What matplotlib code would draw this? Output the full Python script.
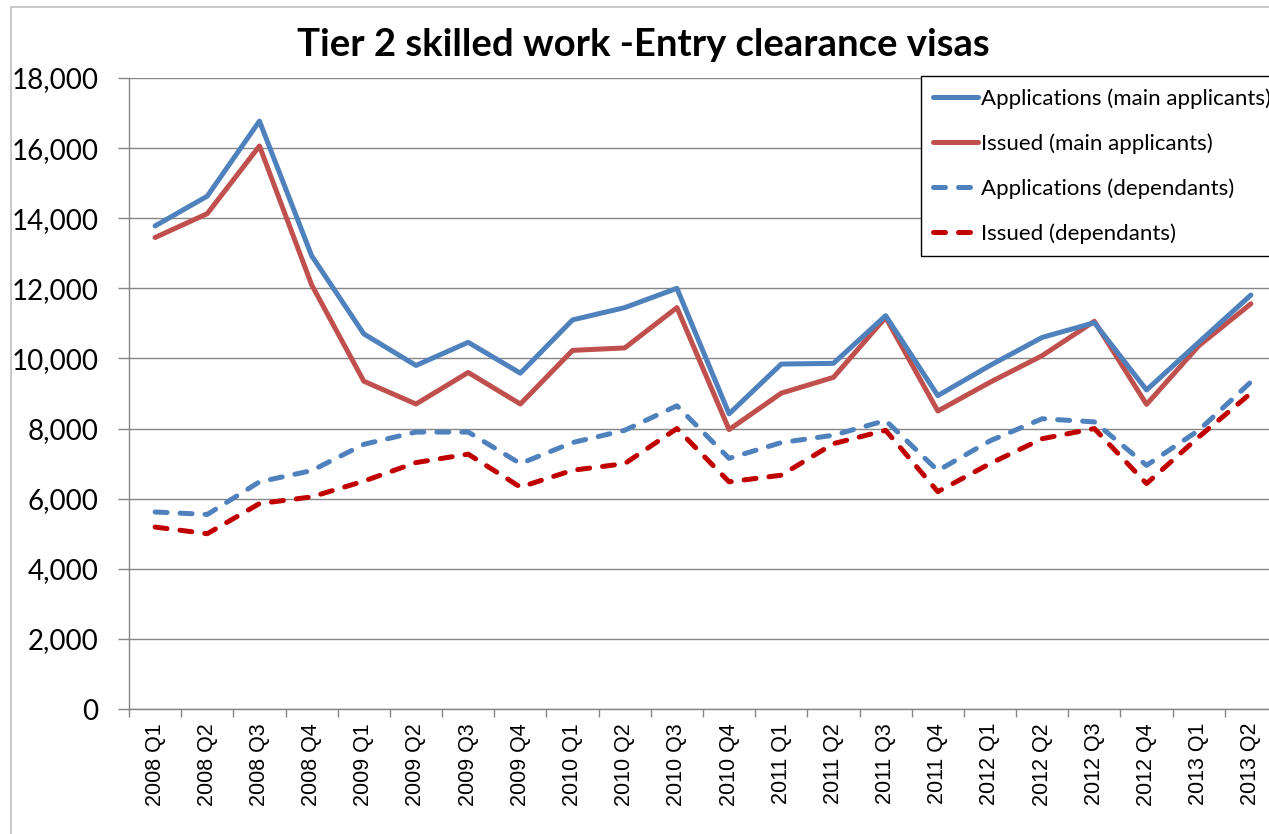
import numpy as np
import matplotlib
matplotlib.use("Agg")
import matplotlib.pyplot as plt
from matplotlib.patches import Rectangle
from matplotlib.ticker import FuncFormatter, MultipleLocator

quarters = ["2008 Q1", "2008 Q2", "2008 Q3", "2008 Q4",
            "2009 Q1", "2009 Q2", "2009 Q3", "2009 Q4",
            "2010 Q1", "2010 Q2", "2010 Q3", "2010 Q4",
            "2011 Q1", "2011 Q2", "2011 Q3", "2011 Q4",
            "2012 Q1", "2012 Q2", "2012 Q3", "2012 Q4",
            "2013 Q1", "2013 Q2"]

apps_main = [13780, 14630, 16770, 12930, 10700, 9800, 10460, 9580,
             11100, 11450, 12000, 8420, 9840, 9860, 11220, 8940,
             9800, 10600, 11020, 9100, 10460, 11810]
issued_main = [13450, 14130, 16060, 12100, 9350, 8700, 9600, 8700,
               10230, 10300, 11450, 7970, 9010, 9460, 11170, 8500,
               9320, 10080, 11060, 8690, 10360, 11560]
apps_dep = [5620, 5550, 6480, 6800, 7550, 7900, 7900, 7000,
            7600, 7950, 8650, 7150, 7600, 7810, 8230, 6800,
            7650, 8280, 8190, 6950, 7950, 9330]
issued_dep = [5190, 5000, 5860, 6050, 6500, 7030, 7270, 6330,
              6810, 7000, 8000, 6480, 6670, 7570, 7950, 6200,
              7000, 7710, 8000, 6430, 7760, 9010]

W, H = 1269, 834
fig = plt.figure(figsize=(W / 100, H / 100), dpi=100)

# outer chart border (cut off at right / bottom like the original)
fig.patches.append(Rectangle((11 / W, -0.1), 1.2, 1 - 7 / H + 0.1,
                             transform=fig.transFigure, fill=False,
                             edgecolor="#BFBFBF", linewidth=1.2))

left, right, top, bottom = 129, 1277, 78, 709
ax = fig.add_axes([left / W, 1 - bottom / H, (right - left) / W, (bottom - top) / H])

x = np.arange(len(quarters))
lw = 3.6
ax.plot(x, apps_main, color="#4F81BD", lw=lw, solid_joinstyle="round",
        solid_capstyle="round", label="Applications (main applicants)", zorder=4)
ax.plot(x, issued_main, color="#C0504D", lw=lw, solid_joinstyle="round",
        solid_capstyle="round", label="Issued (main applicants)", zorder=3)
ax.plot(x, apps_dep, color="#4F81BD", lw=lw, linestyle=(0, (2.4, 2.6)),
        dash_capstyle="round", dash_joinstyle="round",
        label="Applications (dependants)", zorder=2)
ax.plot(x, issued_dep, color="#C00000", lw=lw, linestyle=(0, (2.4, 2.6)),
        dash_capstyle="round", dash_joinstyle="round",
        label="Issued (dependants)", zorder=1)

ax.set_xlim(-0.5, len(quarters) - 0.5)
ax.set_ylim(0, 18000)
ax.yaxis.set_major_locator(MultipleLocator(2000))
ax.yaxis.set_major_formatter(FuncFormatter(lambda v, p: f"{int(v):,}"))
ax.grid(axis="y", color="#868686", linewidth=1.0)
ax.set_axisbelow(True)

for s in ["top", "right"]:
    ax.spines[s].set_visible(False)
for s in ["left", "bottom"]:
    ax.spines[s].set_color("#868686")
    ax.spines[s].set_linewidth(1.0)

ax.set_xticks(x)
ax.set_xticklabels(quarters, rotation=90, fontfamily="Liberation Sans", fontsize=15.5)
ax.set_xticks(np.arange(-0.5, len(quarters), 1.0), minor=True)
ax.tick_params(axis="x", which="major", length=0, pad=10)
ax.tick_params(axis="x", which="minor", length=6, color="#868686", width=1.0)
ax.tick_params(axis="y", length=8, color="#868686", width=1.0, pad=14, labelsize=20)
for lab in ax.get_yticklabels():
    lab.set_fontfamily("Lato")

fig.text(643 / W, 1 - 45 / H, "Tier 2 skilled work -Entry clearance visas",
         ha="center", va="center", fontsize=27.5, fontweight="bold", fontfamily="Lato")

leg = fig.legend(loc="upper left", bbox_to_anchor=(921 / W, 1 - 76 / H),
                 bbox_transform=fig.transFigure, prop={"family": "Lato", "size": 16},
                 frameon=True, fancybox=False, framealpha=1, edgecolor="black",
                 handlelength=2.0, handletextpad=0.15, labelspacing=1.1,
                 borderpad=0.55, borderaxespad=0)
leg.get_frame().set_linewidth(1.0)

fig.savefig("out.png", dpi=100)
